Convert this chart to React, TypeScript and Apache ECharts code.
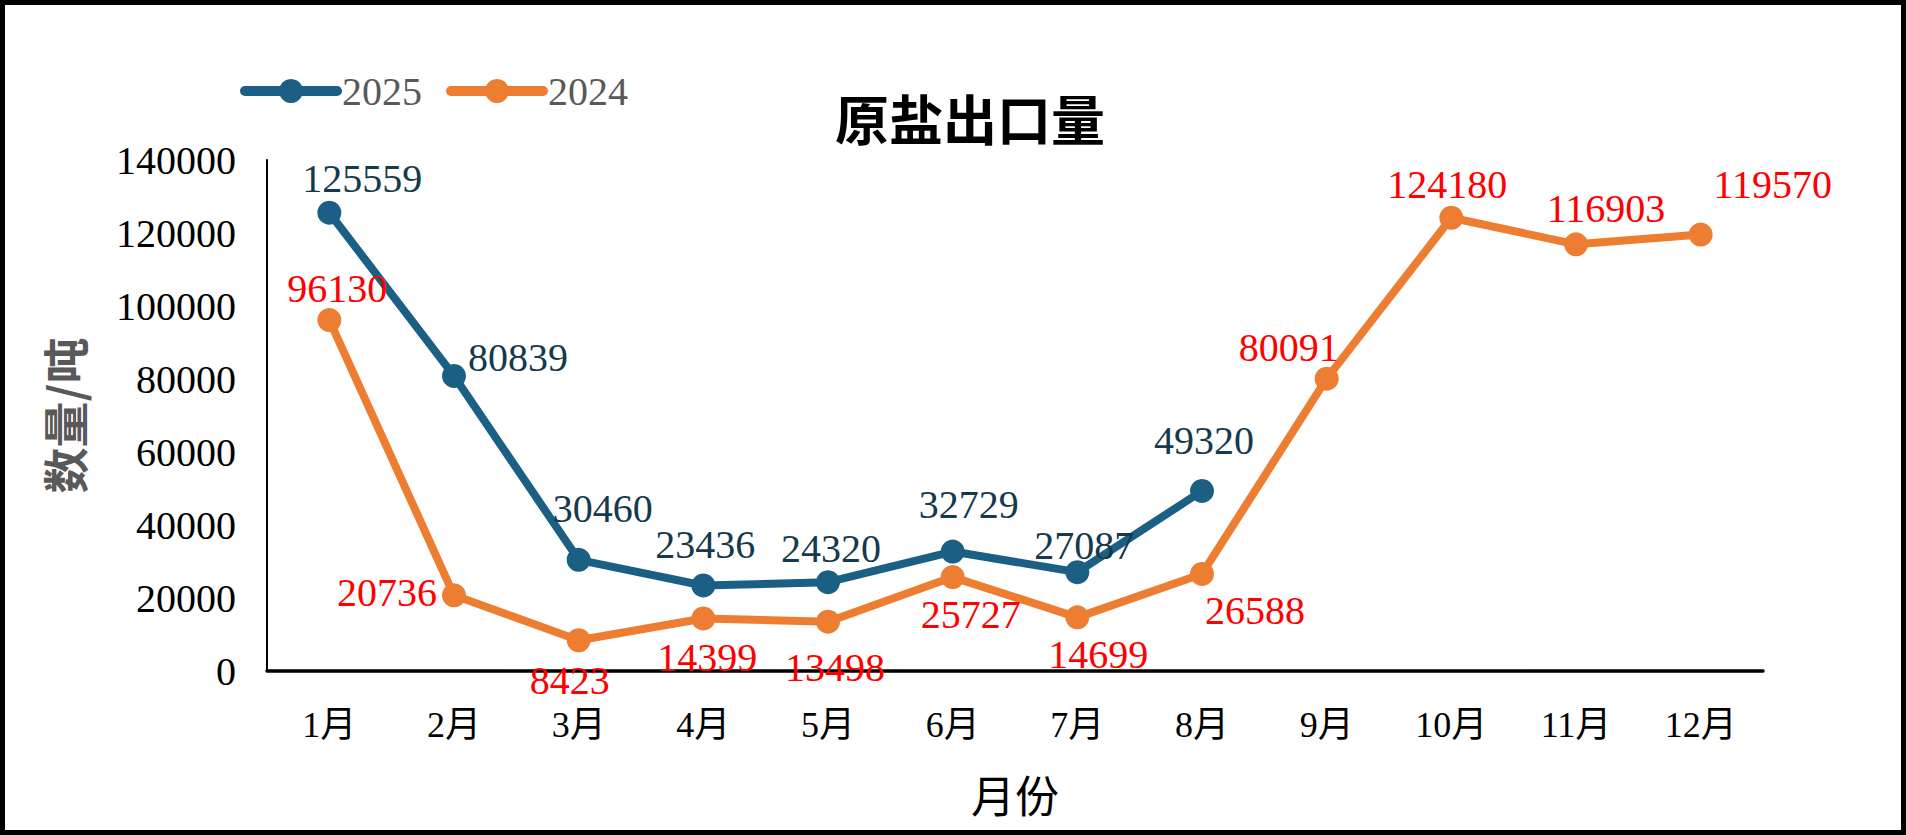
import React, { useEffect, useRef } from "react";
import * as echarts from "echarts";

const months = ["1月", "2月", "3月", "4月", "5月", "6月", "7月", "8月", "9月", "10月", "11月", "12月"];
const values2025 = [125559, 80839, 30460, 23436, 24320, 32729, 27087, 49320];
const values2024 = [96130, 20736, 8423, 14399, 13498, 25727, 14699, 26588, 80091, 124180, 116903, 119570];
const seriesNames = ["2025", "2024"];
const titleText = "原盐出口量";
const yName = "数量/吨";
const xName = "月份";

// label placement (style only)
const pos2025 = ["top", "right", "top", "top", "top", "top", "top", "top"];
const off2025 = [[33, 3], [-3, -18], [24, -14], [2, -4], [3, 3], [16, -10], [7, 10], [2, -13]];
const pos2024 = ["top", "left", "bottom", "bottom", "bottom", "bottom", "bottom", "bottom", "top", "top", "top", "top"];
const off2024 = [[8, 5], [0, -3], [-9, 3], [4, 2], [7, 9], [18, 0], [21, 0], [53, 0], [-38, 6], [-4, 4], [30, 1], [72, -13]];

const SERIF = '"Liberation Serif", "Times New Roman", "Noto Sans CJK SC", serif';
const CJK = '"Noto Sans CJK SC", sans-serif';

export default function App() {
  const ref = useRef<HTMLDivElement>(null);
  useEffect(() => {
    if (!ref.current) return;
    const chart = echarts.init(ref.current, null, { renderer: "svg" });
    const mk = (vals: number[], pos: string[], off: number[][]) =>
      vals.map((v, i) => ({ value: v, label: { position: pos[i], offset: off[i] } }));
    chart.setOption({
      animation: false,
      backgroundColor: "#ffffff",
      title: {
        text: titleText,
        left: 835,
        top: 90,
        padding: 0,
        textStyle: { fontFamily: CJK, fontWeight: "bold", fontSize: 54, color: "#000" },
      },
      legend: {
        left: 240,
        top: 71,
        padding: 0,
        itemWidth: 92,
        itemHeight: 30,
        itemGap: 24,
        lineStyle: { width: 10, cap: "round" },
        textStyle: { fontFamily: SERIF, fontSize: 40, color: "#595959" },
        data: seriesNames,
      },
      grid: { left: 267, right: 143, top: 160, bottom: 164, containLabel: false },
      xAxis: {
        type: "category",
        data: months,
        boundaryGap: true,
        axisLine: { lineStyle: { color: "#000", width: 3.5 } },
        axisTick: { show: false },
        axisLabel: { fontFamily: SERIF, fontSize: 36, color: "#000", margin: 36 },
        name: xName,
        nameLocation: "middle",
        nameGap: 101,
        nameTextStyle: { fontFamily: CJK, fontSize: 44, color: "#000" },
      },
      yAxis: {
        type: "value",
        min: 0,
        max: 140000,
        interval: 20000,
        axisLine: { show: true, lineStyle: { color: "#000", width: 2 } },
        axisTick: { show: false },
        splitLine: { show: false },
        axisLabel: {
          fontFamily: SERIF,
          fontSize: 40,
          color: "#000",
          margin: 31,
          formatter: (v: number) => String(v),
        },
        name: yName,
        nameLocation: "middle",
        nameRotate: 90,
        nameGap: 181,
        nameTextStyle: { fontFamily: CJK, fontSize: 46, fontWeight: "bold", color: "#595959" },
      },
      graphic: [
        {
          type: "rect",
          shape: { x: 2.5, y: 2.5, width: 1901, height: 830 },
          style: { fill: "none", stroke: "#000", lineWidth: 5 },
          silent: true,
        },
      ],
      series: [
        {
          name: seriesNames[0],
          type: "line",
          data: mk(values2025, pos2025, off2025),
          symbol: "circle",
          symbolSize: 24,
          color: "#1B5F84",
          lineStyle: { width: 8, color: "#1B5F84", cap: "round" },
          itemStyle: { color: "#1B5F84" },
          label: { show: true, fontFamily: SERIF, fontSize: 40, color: "#15394D" },
        },
        {
          name: seriesNames[1],
          type: "line",
          data: mk(values2024, pos2024, off2024),
          symbol: "circle",
          symbolSize: 24,
          color: "#ED7D31",
          lineStyle: { width: 8, color: "#ED7D31", cap: "round" },
          itemStyle: { color: "#ED7D31" },
          label: { show: true, fontFamily: SERIF, fontSize: 40, color: "#FF0000" },
        },
      ],
    });
    return () => chart.dispose();
  }, []);
  return <div ref={ref} style={{ position: "absolute", left: 0, top: 0, width: 1906, height: 835 }} />;
}
